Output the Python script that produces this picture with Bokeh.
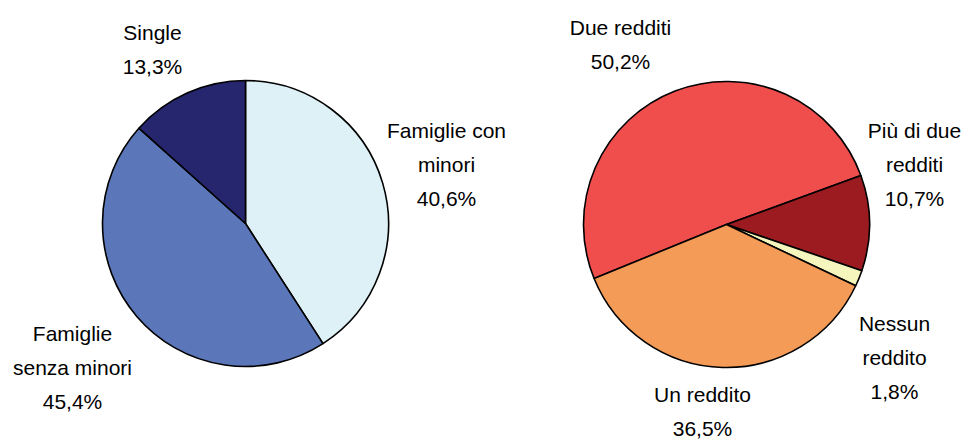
import math
from bokeh.plotting import figure
from bokeh.models import Range1d, ColumnDataSource
from bokeh.core.properties import value
from bokeh.embed import file_html
from bokeh.resources import INLINE

# ---- data ----
left_names = ["Famiglie con\nminori", "Famiglie\nsenza minori", "Single"]
left_values = [40.6, 45.4, 13.3]
left_colors = ["#DDF1F6", "#5B77B9", "#25266E"]

right_names = ["Due redditi", "Più di due\nredditi", "Nessun\nreddito", "Un reddito"]
right_values = [50.2, 10.7, 1.8, 36.5]
right_colors = ["#EF4E4C", "#9B1B20", "#F5F5BE", "#F49B57"]

# ---- layout (image pixel coordinates) ----
W, H = 971, 441
FONT = "Liberation Sans"
FSIZE = "21px"
LINE = 34

left_center = (245, 223)
right_center = (726, 224)
radius = 143
left_start = 90.0      # first slice starts at 12 o'clock, clockwise
right_split = 20.0     # boundary Due redditi / Più di due redditi (deg)

# label anchors: (x centre, y of first line) in image pixels
left_label_pos = [(446, 130), (72, 333), (152, 32)]
right_label_pos = [(620, 27), (914, 130), (894, 323), (702, 394)]


def Y(img_y):
    return H - img_y


p = figure(width=W, height=H, output_backend="svg", toolbar_location=None,
           x_range=Range1d(0, W), y_range=Range1d(0, H),
           min_border=0)
p.axis.visible = False
p.grid.visible = False
p.outline_line_color = None
p.background_fill_color = "white"
p.border_fill_color = "white"


def pie(center, values, colors, start_deg):
    total = sum(values)
    starts, ends = [], []
    a = start_deg
    for v in values:
        span = v / total * 360.0
        starts.append(math.radians(a - span))
        ends.append(math.radians(a))
        a -= span
    src = ColumnDataSource(dict(x=[center[0]] * len(values),
                                y=[Y(center[1])] * len(values),
                                start=starts, end=ends, color=colors))
    p.wedge(x="x", y="y", radius=radius, start_angle="start", end_angle="end",
            fill_color="color", line_color="black", line_width=1.6, source=src)


def fmt(v):
    return ("%.1f" % v).replace(".", ",") + "%"


def labels(names, values, positions):
    xs, ys, txt = [], [], []
    for name, v, (lx, ly) in zip(names, values, positions):
        lines = name.split("\n") + [fmt(v)]
        for i, t in enumerate(lines):
            xs.append(lx)
            ys.append(Y(ly + i * LINE))
            txt.append(t)
    p.text(x=xs, y=ys, text=txt, text_align="center", text_baseline="middle",
           text_font=value(FONT), text_font_size=FSIZE, text_color="black")


pie(left_center, left_values, left_colors, left_start)
due_span = right_values[0] / sum(right_values) * 360.0
pie(right_center, right_values, right_colors, right_split + due_span)

labels(left_names, left_values, left_label_pos)
labels(right_names, right_values, right_label_pos)

open("out.html", "w").write(file_html(p, INLINE))
